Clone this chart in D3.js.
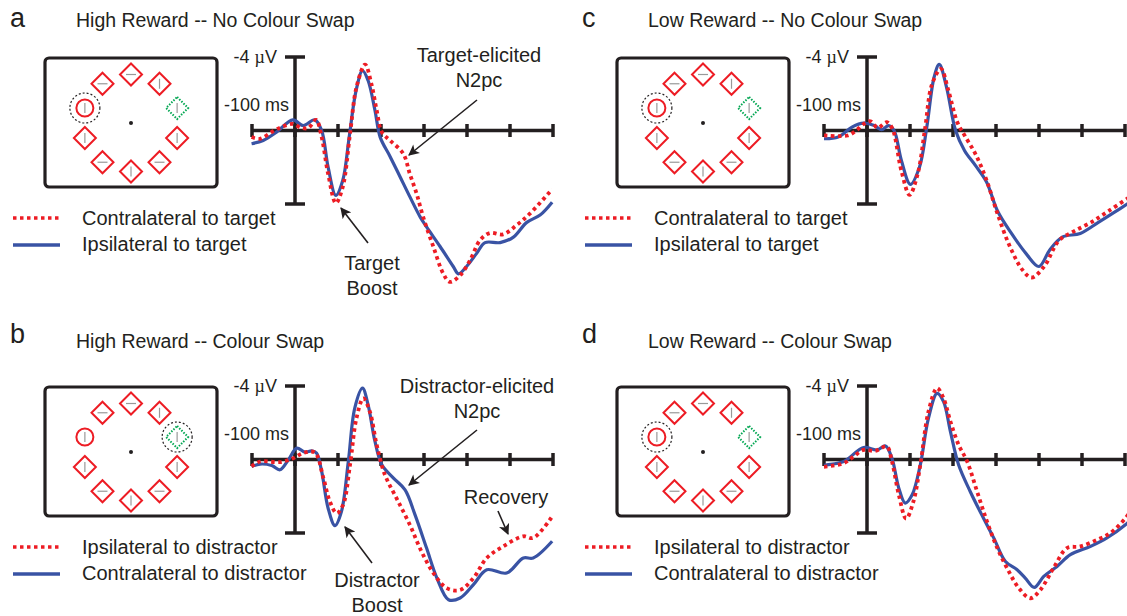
<!DOCTYPE html>
<html>
<head>
<meta charset="utf-8">
<script src="https://cdn.jsdelivr.net/npm/d3@7"></script>
<style>
body { margin: 0; background: #fff; }
svg text { font-family: "Liberation Sans", Arial, Helvetica, sans-serif; fill: #231f20; }
</style>
</head>
<body>
<svg id="fig" width="1127" height="616"></svg>
<script>
// ERP waveforms: [time in ms, amplitude in µV] (negative plotted up)
var aContra = [[-101,0.36],[-82,0.45],[-51,0.04],[-28,-0.22],[-5,-0.36],[15,-0.14],[31,-0.14],[49,-0.58],[62,0.36],[77,2.36],[95,3.95],[111,3.08],[128,0.18],[143,-2.36],[163,-3.59],[178,-2.5],[190,-1.09],[202,0.09],[221,0.54],[252,1.27],[267,2.36],[283,3.45],[298,4.7],[322,6.34],[345,7.8],[360,8.24],[384,7.88],[407,7.07],[430,5.98],[453,5.58],[484,5.65],[515,5.16],[546,4.53],[598,3.2]];
var aIpsi = [[-101,0.72],[-74,0.54],[-43,0.09],[-5,-0.58],[19,-0.27],[46,-0.58],[62,0],[77,1.99],[95,3.53],[111,2.72],[126,0.36],[142,-2.17],[157,-3.26],[170,-2.72],[186,-1.09],[198,0.36],[221,1.41],[244,2.5],[267,3.6],[291,4.7],[306,5.25],[337,6.3],[368,7.4],[380,7.8],[399,7.4],[422,6.7],[442,6.1],[477,6.1],[508,5.8],[539,5.0],[570,4.6],[598,3.9]];

var bIpsi = [[-101,0.38],[-81,0.11],[-35,0.14],[-4,-0.07],[19,-0.35],[46,-0.38],[66,1.01],[81,2.28],[97,2.92],[112,2.46],[128,0.29],[143,-2.25],[159,-3.33],[174,-2.61],[190,-0.8],[209,0.83],[236,2.1],[267,3.55],[294,5.0],[322,6.18],[353,7.0],[384,7.1],[415,6.45],[446,5.36],[484,4.73],[531,4.18],[554,4.27],[598,3.1]];
var bContra = [[-101,0.38],[-81,0.25],[-54,0.33],[-35,0.56],[-15,0],[4,-0.62],[23,-0.4],[39,-0.47],[50,-0.35],[62,0.65],[77,2.65],[93,3.6],[108,2.83],[124,0.11],[139,-2.8],[157,-3.88],[170,-2.97],[186,-0.98],[202,0.29],[229,1.01],[256,1.65],[279,3.0],[306,4.82],[330,6.45],[357,7.63],[384,7.54],[415,6.81],[446,6.0],[492,6.18],[531,5.36],[554,5.36],[598,4.45]];

var cContra = [[-100,0.27],[-45,0.27],[-25,0.0],[-8,-0.35],[8,-0.5],[25,-0.15],[46,-0.45],[59,-0.1],[80,2.2],[99,3.5],[118,2.35],[135,-0.1],[151,-2.5],[172,-3.35],[189,-2.2],[210,-0.45],[227,0.27],[252,1.27],[278,2.7],[303,4.5],[332,6.3],[362,7.6],[383,8.0],[412,7.4],[446,6.0],[480,5.5],[521,5.0],[564,4.35],[612,3.6]];
var cIpsi = [[-100,0.45],[-67,0.36],[-34,-0.2],[-8,-0.4],[17,-0.27],[34,-0.04],[50,-0.27],[63,0],[80,1.63],[101,2.93],[122,2.0],[139,-0.18],[156,-2.9],[168,-3.6],[185,-2.35],[206,0],[227,1.1],[252,1.9],[278,2.8],[303,4.35],[336,5.6],[370,6.7],[400,7.4],[425,6.5],[454,5.8],[496,5.6],[538,5.0],[572,4.5],[612,3.9]];

var dIpsi = [[-100,0.4],[-93,0.38],[-54,0.2],[-31,-0.16],[-8,-0.52],[19,-0.47],[46,-0.7],[58,0.11],[74,1.92],[91,3.22],[108,2.28],[124,0.29],[143,-2.61],[163,-3.88],[178,-3.33],[194,-2.07],[213,-0.8],[233,0.11],[256,1.74],[279,3.37],[303,4.82],[330,6.1],[353,7.0],[380,7.55],[403,7.1],[434,5.9],[465,4.82],[496,4.73],[535,4.37],[566,4.0],[601,3.2],[610,2.9]];
var dContra = [[-100,0.32],[-93,0.29],[-54,0.11],[-8,-0.65],[23,-0.52],[43,-0.74],[58,-0.07],[74,1.56],[89,2.37],[105,1.92],[124,0.29],[143,-2.25],[163,-3.6],[178,-3.15],[194,-1.52],[213,0.29],[240,1.74],[271,3.2],[295,4.28],[322,5.55],[349,6.0],[368,6.45],[389,6.96],[411,6.36],[442,5.82],[473,5.18],[520,4.73],[558,4.27],[601,3.55],[610,3.35]];

// axis ticks (ms) and amplitude range
var timeTicks = [-100, 0, 100, 200, 300, 400, 500, 600];
var ampRange = [-4, 4];

// search display: 10 positions round the ring, clockwise from the top
var stimAngles = [0, 36, 72, 108, 144, 180, 216, 252, 288, 324];
var stimKinds = ["diamond","diamond","green","diamond","diamond","diamond","diamond","diamond","circle","diamond"];
var stimBars = ["h","v","v","v","h","v","h","v","v","h"];

var letters = ["a", "b", "c", "d"];
var titles = ["High Reward -- No Colour Swap", "High Reward -- Colour Swap", "Low Reward -- No Colour Swap", "Low Reward -- Colour Swap"];
var dottedLabels = ["Contralateral to target", "Ipsilateral to distractor", "Contralateral to target", "Ipsilateral to distractor"];
var solidLabels = ["Ipsilateral to target", "Contralateral to distractor", "Ipsilateral to target", "Contralateral to distractor"];
var ringedItem = [8, 2, 8, 8];

var RED = "#ed1c24", BLUE = "#3953a4", INK = "#231f20", GREEN = "#00a651";

var panels = [
    { dx: 0,   dy: 0,   ty: 0,   dotted: aContra, solid: aIpsi },
    { dx: 0,   dy: 329, ty: 320, dotted: bIpsi,   solid: bContra },
    { dx: 572, dy: 0,   ty: 0,   dotted: cContra, solid: cIpsi },
    { dx: 572, dy: 329, ty: 320, dotted: dIpsi,   solid: dContra }
];

var svg = d3.select("#fig");

// arrow head for the annotations
svg.append("defs").append("marker")
    .attr("id", "head")
    .attr("viewBox", "0 0 10 10")
    .attr("refX", 9).attr("refY", 5)
    .attr("markerUnits", "userSpaceOnUse")
    .attr("markerWidth", 12).attr("markerHeight", 11)
    .attr("orient", "auto")
    .append("path").attr("d", "M0,0 L10,5 L0,10 L2.5,5 z").attr("fill", INK);

var x = d3.scaleLinear().domain([-100, 600]).range([252, 553]);
var y = d3.scaleLinear().domain(ampRange).range([57, 204]);

var line = d3.line()
    .x(function(d) { return x(d[0]); })
    .y(function(d) { return y(d[1]); })
    .curve(d3.curveCatmullRom.alpha(0.5));

panels.forEach(function(p, i) {
    // heading
    svg.append("text").attr("x", 10 + p.dx).attr("y", (i % 2 ? 343 : 27))
        .style("font-size", "27px").text(letters[i]);
    svg.append("text").attr("x", 76 + p.dx).attr("y", 27 + p.ty + (i % 2 ? 1 : 0))
        .style("font-size", "19.5px").text(titles[i]);

    var g = svg.append("g").attr("transform", "translate(" + p.dx + "," + p.dy + ")");

    // search display
    g.append("rect").attr("x", 45).attr("y", 58).attr("width", 172).attr("height", 129)
        .attr("rx", 4).attr("fill", "none").attr("stroke", INK).attr("stroke-width", 3.2);
    g.append("circle").attr("cx", 131).attr("cy", 123).attr("r", 2).attr("fill", INK);

    stimAngles.forEach(function(a, k) {
        var rad = a * Math.PI / 180;
        var cx = 131 + 48.5 * Math.sin(rad), cy = 123 - 48.5 * Math.cos(rad);
        var s = g.append("g").attr("transform", "translate(" + cx + "," + cy + ")");
        if (stimKinds[k] == "circle") {
            s.append("circle").attr("r", 8.5).attr("fill", "none").attr("stroke", RED).attr("stroke-width", 2);
        } else {
            s.append("path").attr("d", "M0,-11 L11,0 L0,11 L-11,0 Z").attr("fill", "none")
                .attr("stroke", stimKinds[k] == "green" ? GREEN : RED)
                .attr("stroke-width", 2)
                .attr("stroke-dasharray", stimKinds[k] == "green" ? "1.5,1.5" : null);
        }
        if (stimBars[k] == "h") {
            s.append("line").attr("x1", -5).attr("x2", 5).attr("stroke", "#999").attr("stroke-width", 1.2);
        } else {
            s.append("line").attr("y1", -5).attr("y2", 5).attr("stroke", "#999").attr("stroke-width", 1.2);
        }
        if (ringedItem[i] == k) {
            s.append("circle").attr("r", 15).attr("fill", "none").attr("stroke", INK)
                .attr("stroke-width", 1.2).attr("stroke-dasharray", "2,2");
        }
    });

    // legend
    g.append("line").attr("x1", 13).attr("x2", 60).attr("y1", 218).attr("y2", 218)
        .attr("stroke", RED).attr("stroke-width", 3.5).attr("stroke-dasharray", "3.5,3.5");
    g.append("line").attr("x1", 13).attr("x2", 60).attr("y1", 245).attr("y2", 245)
        .attr("stroke", BLUE).attr("stroke-width", 3.5);
    g.append("text").attr("x", 82).attr("y", 225).style("font-size", "20px").text(dottedLabels[i]);
    g.append("text").attr("x", 82).attr("y", 251).style("font-size", "20px").text(solidLabels[i]);

    // ERP axes
    g.append("line").attr("x1", x(-100)).attr("x2", x(600)).attr("y1", y(0)).attr("y2", y(0))
        .attr("stroke", INK).attr("stroke-width", 3.5);
    g.selectAll(".tick").data(timeTicks).enter().append("line")
        .attr("x1", function(d) { return x(d); }).attr("x2", function(d) { return x(d); })
        .attr("y1", y(0) - 6.5).attr("y2", y(0) + 6.5)
        .attr("stroke", INK).attr("stroke-width", 3.5);
    g.append("line").attr("x1", x(0)).attr("x2", x(0)).attr("y1", y(-4)).attr("y2", y(4))
        .attr("stroke", INK).attr("stroke-width", 3.5);
    [-4, 4].forEach(function(v) {
        g.append("line").attr("x1", x(0) - 10).attr("x2", x(0) + 10).attr("y1", y(v)).attr("y2", y(v))
            .attr("stroke", INK).attr("stroke-width", 3.5);
    });
    var lab = g.append("text").attr("x", x(0) - 18).attr("y", y(-4) + 6).attr("text-anchor", "end")
        .style("font-size", "18px");
    lab.append("tspan").text("-4 ");
    lab.append("tspan").style("font-family", "'Liberation Serif', serif").text("\u00b5");
    lab.append("tspan").text("V");
    g.append("text").attr("x", x(0) - 6).attr("y", 111).attr("text-anchor", "end")
        .style("font-size", "18px").text("-100 ms");

    // waveforms
    g.append("path").datum(p.solid).attr("d", line).attr("fill", "none")
        .attr("stroke", BLUE).attr("stroke-width", 3.2);
    g.append("path").datum(p.dotted).attr("d", line).attr("fill", "none")
        .attr("stroke", RED).attr("stroke-width", 3.8).attr("stroke-dasharray", "3.5,3.5");
});

// annotations
function note(lines, cx, y0) {
    lines.forEach(function(t, k) {
        svg.append("text").attr("x", cx).attr("y", y0 + k * 25).attr("text-anchor", "middle")
            .style("font-size", "20px").text(t);
    });
}
function arrow(x1, y1, x2, y2) {
    svg.append("line").attr("x1", x1).attr("y1", y1).attr("x2", x2).attr("y2", y2)
        .attr("stroke", INK).attr("stroke-width", 1.6).attr("marker-end", "url(#head)");
}
note(["Target-elicited", "N2pc"], 479, 62);
arrow(477, 100, 409, 155);
note(["Target", "Boost"], 372, 270);
arrow(368, 243, 341, 208);

note(["Distractor-elicited", "N2pc"], 477, 393);
arrow(477, 430, 409, 485);
note(["Recovery"], 506, 504);
arrow(498, 511, 508, 534);
note(["Distractor", "Boost"], 377, 587);
arrow(372, 563, 345, 527);
</script>
</body>
</html>
